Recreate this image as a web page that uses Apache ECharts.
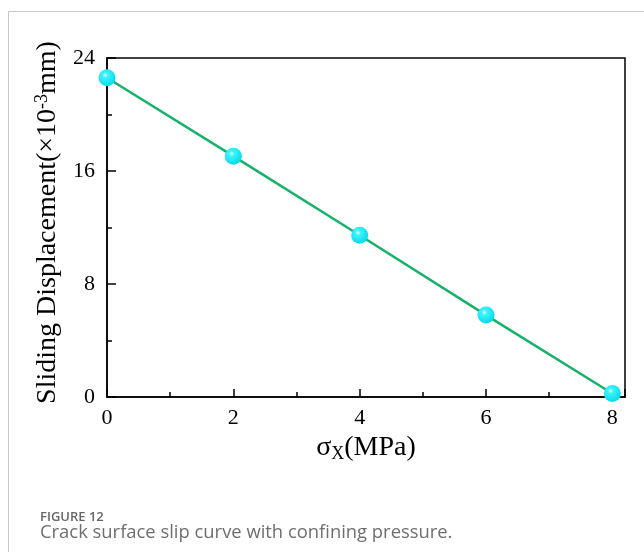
<!DOCTYPE html>
<html><head><meta charset="utf-8">
<script src="https://cdn.jsdelivr.net/npm/echarts@6/dist/echarts.min.js"></script>
<style>html,body{margin:0;padding:0;background:#fff}#c{width:644px;height:552px}</style>
</head><body><div id="c"></div>
<script>
const xValues = [0, 2, 4, 6, 8];
const slideDisp = [22.6, 17.05, 11.45, 5.8, 0.25];
const yTicks = [0, 8, 16, 24];
const xTicks = [0, 2, 4, 6, 8];

const chart = echarts.init(document.getElementById('c'));
const serif = '"Liberation Serif","Times New Roman",serif';
chart.setOption({
  backgroundColor: '#fff',
  animation: false,
  grid: { left: 107, right: 19, top: 58, bottom: 155, show: true, borderColor: '#000', borderWidth: 1.5 },
  xAxis: {
    type: 'value', min: 0, max: 8.2, interval: 2,
    name: '{s|σ}{sub|X}{s|(MPa)}', nameLocation: 'middle', nameGap: 34,
    nameTextStyle: { rich: {
      s: { fontFamily: serif, fontSize: 28, color: '#000' },
      sub: { fontFamily: serif, fontSize: 18, color: '#000', verticalAlign: 'bottom', padding: [12, 0, 0, 0] }
    } },
    axisLine: { show: true, lineStyle: { color: '#000', width: 1.5 } },
    axisTick: { show: true, inside: true, length: 8, lineStyle: { color: '#000', width: 1.5 } },
    minorTick: { show: true, splitNumber: 2, length: 5, lineStyle: { color: '#000', width: 1.5 } },
    splitLine: { show: false },
    axisLabel: { fontFamily: serif, fontSize: 22, color: '#000', margin: 10,
      formatter: v => xTicks.includes(v) ? String(v) : '' }
  },
  yAxis: {
    type: 'value', min: 0, max: 24, interval: 8,
    name: '{s|Sliding Displacement(×10}{sup|-3}{s|mm)}', nameLocation: 'middle', nameGap: 44,
    nameTextStyle: { padding: [0, 0, 0, 10], rich: {
      s: { fontFamily: serif, fontSize: 28, color: '#000' },
      sup: { fontFamily: serif, fontSize: 18, color: '#000', verticalAlign: 'top', padding: [0, 0, 12, 0] }
    } },
    axisLine: { show: true, lineStyle: { color: '#000', width: 1.5 } },
    axisTick: { show: true, inside: true, length: 9, lineStyle: { color: '#000', width: 1.5 } },
    minorTick: { show: true, splitNumber: 2, length: 5, lineStyle: { color: '#000', width: 1.5 } },
    splitLine: { show: false },
    axisLabel: { fontFamily: serif, fontSize: 22, color: '#000', margin: 12,
      formatter: v => yTicks.includes(v) ? String(v) : '' }
  },
  series: [{
    type: 'line',
    data: xValues.map((x, i) => [x, slideDisp[i]]),
    lineStyle: { color: '#17b26a', width: 2.5 },
    symbol: 'circle', symbolSize: 17,
    itemStyle: {
      color: { type: 'radial', x: 0.4, y: 0.35, r: 0.7, colorStops: [
        { offset: 0, color: '#ffffff' }, { offset: 0.2, color: '#3ff4ff' }, { offset: 1, color: '#00d8e6' } ] },
      borderWidth: 0
    },
    clip: false
  }],
  graphic: [
    { type: 'line', shape: { x1: 8, y1: 11.5, x2: 644, y2: 11.5 }, style: { stroke: '#c8c8c8', lineWidth: 1 } },
    { type: 'line', shape: { x1: 8.5, y1: 11, x2: 8.5, y2: 552 }, style: { stroke: '#c8c8c8', lineWidth: 1 } },
    { type: 'text', left: 40, top: 511, style: { text: 'FIGURE 12', font: '600 13px "Open Sans", sans-serif', fill: '#666' } },
    { type: 'text', left: 40, top: 524, style: { text: 'Crack surface slip curve with confining pressure.', font: '18.4px "Open Sans", sans-serif', fill: '#6e6e6e' } }
  ]
});
</script></body></html>
